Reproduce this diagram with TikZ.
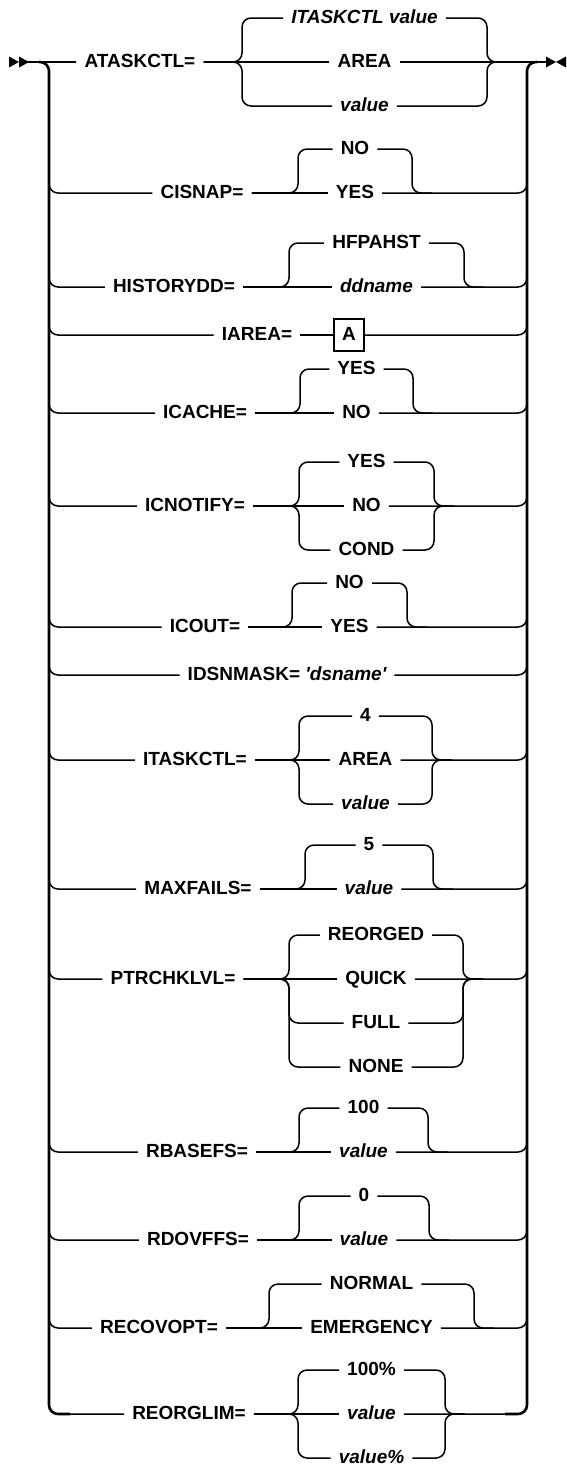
\documentclass[tikz,border=0pt]{standalone}
\usepackage{fontspec}
\setmainfont{Liberation Sans}
\newcommand\leftjoin[2]{\draw[ln] (49,#1-20) -- (49,#1) -- (#2.west);}
\newcommand\rightjoin[2]{\draw[ln] (#2.east) -- (527,#1) -- (527,#1-20);}
% prefix, label, label x, main y, xL, xR, top option, bottom option
\newcommand\twochoice[8]{%
  \node[t] (#1) at (#3,#4) {#2};
  \node[t] (#1t) at ({(#5+#6)/2},#4-44) {#7};
  \node[t] (#1b) at ({(#5+#6)/2},#4) {#8};
  \draw[ln] (#1.east) -- (#1b.west);
  \draw[ln] (#1.east) -- (#5,#4) -- (#5,#4-44) -- (#1t.west);
  \draw[ln] (#1t.east) -- (#6,#4-44) -- (#6,#4) -- (#6+20,#4);
  \leftjoin{#4}{#1}
  \rightjoin{#4}{#1b}}
% prefix, label, label x, main y, xL, xR, top, middle, bottom
\newcommand\threechoice[9]{%
  \node[t] (#1) at (#3,#4) {#2};
  \node[t] (#1t) at ({(#5+#6)/2},#4-44) {#7};
  \node[t] (#1m) at ({(#5+#6)/2},#4) {#8};
  \node[t] (#1b) at ({(#5+#6)/2},#4+44) {#9};
  \draw[ln] (#1.east) -- (#1m.west);
  \draw[ln] (#1.east) -- (#5,#4) -- (#5,#4-44) -- (#1t.west);
  \draw[ln] (#1.east) -- (#5,#4) -- (#5,#4+44) -- (#1b.west);
  \draw[ln] (#1t.east) -- (#6,#4-44) -- (#6,#4) -- (#6+20,#4);
  \draw[ln] (#1b.east) -- (#6,#4+44) -- (#6,#4) -- (#6+20,#4);
  \leftjoin{#4}{#1}
  \rightjoin{#4}{#1m}}
\begin{document}
\begin{tikzpicture}[x=1pt,y=-1pt,
  rail/.style={line width=2.6pt, rounded corners=9pt},
  ln/.style={line width=1.5pt, rounded corners=9pt},
  t/.style={inner xsep=8pt, inner ysep=0pt, text height=13pt, text depth=2pt,
    font=\fontsize{19}{22}\selectfont\bfseries},
  abox/.style={draw, line width=1.5pt, inner sep=0pt, minimum width=30pt,
    minimum height=32pt, text height=13pt, text depth=2pt,
    font=\fontsize{19}{22}\selectfont\bfseries}]
\useasboundingbox (0,0) rectangle (566,1468);
% start and end markers
\fill (9,56.5) -- (19,62) -- (9,67.5) -- cycle;
\fill (19,56.5) -- (29,62) -- (19,67.5) -- cycle;
\fill (546,56.5) -- (556,62) -- (546,67.5) -- cycle;
\fill (566,56.5) -- (556,62) -- (566,67.5) -- cycle;
\coordinate (start) at (28,62);
\coordinate (end) at (546,62);
% rails
\draw[rail] (39,62) -- (49,62) -- (49,1414) -- (70,1414);
\draw[rail] (505,1414) -- (527,1414) -- (527,62) -- (537,62);
% ATASKCTL
\node[t] (a) at (140,62) {ATASKCTL=};
\node[t] (a1) at (364.5,18) {\itshape ITASKCTL value};
\node[t] (a2) at (364.5,62) {AREA};
\node[t] (a3) at (364.5,106) {\itshape value};
\draw[ln] (start) -- (a.west);
\draw[ln] (a.east) -- (a2.west);
\draw[ln] (a.east) -- (242,62) -- (242,18) -- (a1.west);
\draw[ln] (a.east) -- (242,62) -- (242,106) -- (a3.west);
\draw[ln] (a2.east) -- (end);
\draw[ln] (a1.east) -- (487,18) -- (487,62) -- (507,62);
\draw[ln] (a3.east) -- (487,106) -- (487,62) -- (507,62);
% CISNAP
\twochoice{c}{CISNAP=}{202}{193}{298}{412}{NO}{YES}
% HISTORYDD
\twochoice{h}{HISTORYDD=}{174}{287}{289}{464}{HFPAHST}{\itshape ddname}
% IAREA
\node[t] (ia) at (257,335) {IAREA=};
\node[abox] (iab) at (349,335) {A};
\draw[ln] (ia.east) -- (iab.west);
\leftjoin{335}{ia}
\rightjoin{335}{iab}
% ICACHE
\twochoice{ic}{ICACHE=}{205}{413}{300}{413}{YES}{NO}
% ICNOTIFY
\threechoice{in}{ICNOTIFY=}{195}{506}{299}{434}{YES}{NO}{COND}
% ICOUT
\twochoice{io}{ICOUT=}{205}{627}{292}{407}{NO}{YES}
% IDSNMASK
\node[t] (id) at (287,675) {IDSNMASK= {\itshape\textquotesingle dsname\textquotesingle}};
\leftjoin{675}{id}
\rightjoin{675}{id}
% ITASKCTL
\threechoice{it}{ITASKCTL=}{195}{760}{299}{432}{4}{AREA}{\itshape value}
% MAXFAILS
\twochoice{m}{MAXFAILS=}{198}{889}{305}{433}{5}{\itshape value}
% PTRCHKLVL
\node[t] (p) at (173,979) {PTRCHKLVL=};
\node[t] (p1) at (376,935) {REORGED};
\node[t] (p2) at (376,979) {QUICK};
\node[t] (p3) at (376,1023) {FULL};
\node[t] (p4) at (376,1067) {NONE};
\draw[ln] (p.east) -- (p2.west);
\draw[ln] (p.east) -- (289,979) -- (289,935) -- (p1.west);
\draw[ln] (p.east) -- (289,979) -- (289,1023) -- (p3.west);
\draw[ln] (p.east) -- (289,979) -- (289,1067) -- (p4.west);
\draw[ln] (p1.east) -- (463,935) -- (463,979) -- (483,979);
\draw[ln] (p3.east) -- (463,1023) -- (463,979) -- (483,979);
\draw[ln] (p4.east) -- (463,1067) -- (463,979) -- (483,979);
\leftjoin{979}{p}
\rightjoin{979}{p2}
% RBASEFS
\twochoice{rb}{RBASEFS=}{197}{1152}{299}{428}{100}{\itshape value}
% RDOVFFS
\twochoice{rd}{RDOVFFS=}{198}{1240}{299}{429}{0}{\itshape value}
% RECOVOPT
\twochoice{rc}{RECOVOPT=}{159}{1328}{269}{474}{NORMAL}{EMERGENCY}
% REORGLIM
\threechoice{rl}{REORGLIM=}{189}{1414}{298}{445}{100\%}{\itshape value}{\itshape value\%}
\end{tikzpicture}
\end{document}
